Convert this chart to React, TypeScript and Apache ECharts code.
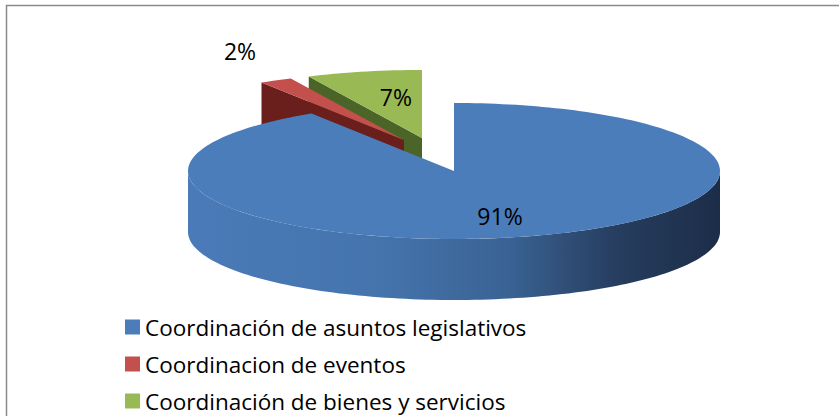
import React, { useEffect, useRef } from "react";
import * as echarts from "echarts";

const categories = [
  "Coordinación de asuntos legislativos",
  "Coordinacion de eventos",
  "Coordinación de bienes y servicios",
];
const values = [91, 2, 7];

const topColors = ["#4a7dba", "#c3504d", "#98b954"];
const cutColors = ["#2f4f7a", "#6a1f1d", "#4b6427"];
const explodeOffsets = [
  [0, 0],
  [-50, -31],
  [-32, -33],
];
const labelFactors = [
  [0.62, 0.69],
  [1.28, 1.49],
  [0.45, 0.62],
];

const CX = 454;
const CY = 171;
const RX = 266;
const RY = 68;
const DEPTH = 61;
const FONT = "'Open Sans', 'Noto Sans', sans-serif";

export default function App() {
  const ref = useRef<HTMLDivElement>(null);
  useEffect(() => {
    if (!ref.current) return;
    const chart = echarts.init(ref.current, null, { renderer: "svg" });
    const total = values.reduce((a, b) => a + b, 0);
    const starts: number[] = [];
    let acc = 0;
    values.forEach((v) => {
      starts.push((acc / total) * Math.PI * 2);
      acc += v;
    });

    const makeRender = (i: number) => (params: any, api: any) => {
      const a0 = starts[i];
      const a1 = a0 + (values[i] / total) * Math.PI * 2;
      const [ox, oy] = explodeOffsets[i];
      const cx = CX + ox;
      const cy = CY + oy;
      const pt = (a: number, down = 0) => [
        cx + RX * Math.sin(a),
        cy - RY * Math.cos(a) + down,
      ];
      const arc = (s: number, e: number, down = 0) => {
        const n = Math.max(2, Math.ceil(((e - s) / (Math.PI * 2)) * 240));
        const pts: number[][] = [];
        for (let k = 0; k <= n; k++) pts.push(pt(s + ((e - s) * k) / n, down));
        return pts;
      };
      const children: any[] = [];
      if (-Math.sin(a0) > 0.01) {
        children.push({
          type: "polygon",
          shape: {
            points: [[cx, cy], pt(a0), pt(a0, DEPTH), [cx, cy + DEPTH]],
          },
          style: { fill: cutColors[i] },
        });
      }
      if (Math.sin(a1) > 0.01) {
        children.push({
          type: "polygon",
          shape: {
            points: [[cx, cy], pt(a1), pt(a1, DEPTH), [cx, cy + DEPTH]],
          },
          style: { fill: cutColors[i] },
        });
      }
      const s = Math.max(a0, Math.PI / 2);
      const e = Math.min(a1, (Math.PI * 3) / 2);
      if (e > s) {
        const top = arc(s, e);
        const bottom = arc(s, e, DEPTH).reverse();
        children.push({
          type: "polygon",
          shape: { points: top.concat(bottom) },
          style: {
            fill:
              i === 0
                ? new echarts.graphic.LinearGradient(0, 0, 1, 0, [
                    { offset: 0, color: "#4a7bb8" },
                    { offset: 0.35, color: "#4574ad" },
                    { offset: 0.6, color: "#3a6394" },
                    { offset: 0.8, color: "#273e60" },
                    { offset: 1, color: "#1c2d48" },
                  ])
                : cutColors[i],
          },
        });
      }
      children.push({
        type: "polygon",
        shape: { points: [[cx, cy]].concat(arc(a0, a1)) },
        style: { fill: topColors[i] },
      });
      const mid = (a0 + a1) / 2;
      const [fx, fy] = labelFactors[i];
      children.push({
        type: "text",
        style: {
          text: Math.round((values[i] / total) * 100) + "%",
          x: cx + RX * Math.sin(mid) * fx,
          y: cy - RY * Math.cos(mid) * fy,
          textAlign: "center",
          textVerticalAlign: "middle",
          fontSize: 23,
          fontFamily: FONT,
          fill: "#000",
        },
      });
      return { type: "group", children };
    };

    const zs = [3, 2, 1];
    chart.setOption({
      animation: false,
      legend: {
        data: categories,
        orient: "vertical",
        left: 125,
        top: 315,
        padding: 0,
        icon: "rect",
        itemWidth: 15,
        itemHeight: 15,
        itemGap: 13,
        textStyle: {
          fontSize: 22.5,
          lineHeight: 24,
          fontFamily: FONT,
          color: "#000",
        },
      },
      graphic: [
        {
          type: "rect",
          shape: { x: 6.5, y: 5.5, width: 900, height: 500 },
          style: { fill: "none", stroke: "#8a8a8a", lineWidth: 1.5 },
          silent: true,
        },
      ],
      series: categories.map((name, i) => ({
        type: "custom",
        name,
        coordinateSystem: "none",
        z: zs[i],
        itemStyle: { color: topColors[i] },
        data: [[i]],
        renderItem: makeRender(i),
      })),
    });
    return () => chart.dispose();
  }, []);
  return (
    <div
      ref={ref}
      style={{ position: "absolute", left: 0, top: 0, width: 839, height: 416 }}
    />
  );
}
